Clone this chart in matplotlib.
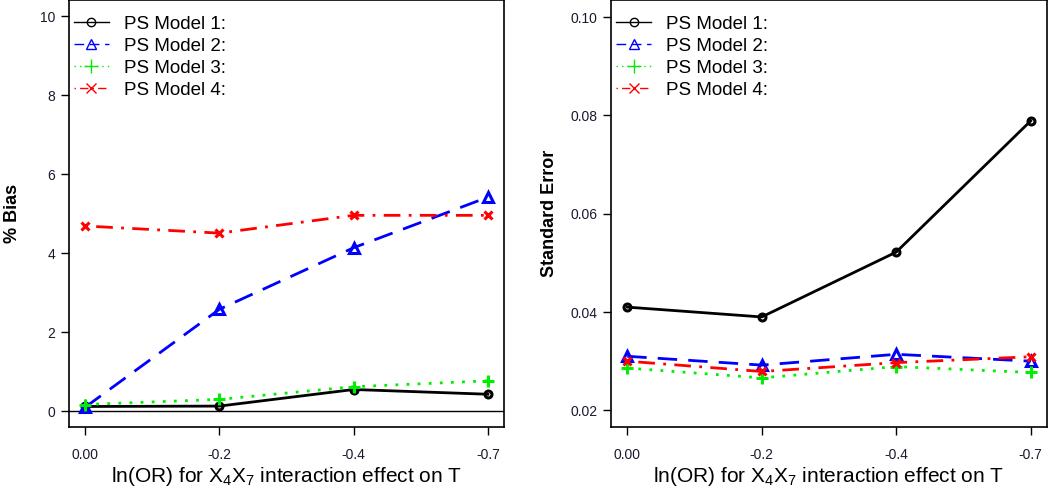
import numpy as np
import matplotlib
matplotlib.use("Agg")
import matplotlib.pyplot as plt
from matplotlib.lines import Line2D

plt.rcParams['font.family'] = ['Liberation Sans', 'DejaVu Sans']

# x categories (ln OR of the X4X7 interaction)
x_labels = ["0.00", "-0.2", "-0.4", "-0.7"]
models = ["PS Model 1:", "PS Model 2:", "PS Model 3:", "PS Model 4:"]

# % Bias
bias_m1 = [0.12, 0.13, 0.55, 0.43]
bias_m2 = [0.10, 2.58, 4.14, 5.42]
bias_m3 = [0.17, 0.30, 0.62, 0.77]
bias_m4 = [4.69, 4.51, 4.96, 4.96]

# Standard Error
se_m1 = [0.0410, 0.0390, 0.0522, 0.0789]
se_m2 = [0.0310, 0.0292, 0.0314, 0.0300]
se_m3 = [0.0286, 0.0266, 0.0289, 0.0277]
se_m4 = [0.0300, 0.0279, 0.0297, 0.0309]

colors = ["black", "blue", "#00ee00", "red"]
styles = ["-", (0, (7, 4)), (0, (1, 3)), (0, (1, 3, 6, 3))]
marks = ["o", "^", "+", "x"]
msizes = [5, 6.5, 9, 6]

fig = plt.figure(figsize=(10.5, 4.91), dpi=100)
axL = fig.add_axes([0.0657, 0.1303, 0.4143, 0.8687])
axR = fig.add_axes([0.582, 0.1303, 0.415, 0.8687])

xpos = np.arange(len(x_labels))


def panel(ax, series, ylim, yticks, yticklabels, ylabel, labx):
    for vals, c, ls, m, ms in zip(series, colors, styles, marks, msizes):
        ax.plot(xpos, vals, color=c, linestyle=ls, linewidth=2,
                marker=m, markersize=ms, markerfacecolor="none",
                markeredgewidth=2.2, zorder=3)
    ax.set_xlim(-0.12, 3.12)
    ax.set_ylim(*ylim)
    ax.set_xticks(xpos)
    ax.set_xticklabels(x_labels)
    ax.set_yticks(yticks)
    ax.set_yticklabels(yticklabels)
    ax.tick_params(axis="both", direction="out", length=6, width=1,
                   labelsize=10, colors="black", labelcolor="#1a1a2e")
    ax.tick_params(axis="x", pad=9)
    ax.tick_params(axis="y", pad=4)
    for s in ax.spines.values():
        s.set_linewidth(1.2)
    ax.set_ylabel(ylabel, fontsize=13, fontweight="bold")
    ax.yaxis.set_label_coords(labx, 0.5)
    ax.set_xlabel(r"ln(OR) for $\mathregular{X_4X_7}$ interaction effect on T",
                  fontsize=15, labelpad=2)
    handles = [Line2D([], [], color=c, linestyle=ls, linewidth=1, marker=m,
                      markersize=ms + 1, markerfacecolor="none",
                      markeredgewidth=1)
               for c, ls, m, ms in zip(colors, styles, marks, msizes)]
    ax.legend(handles, models, loc="upper left", frameon=False, fontsize=13.5,
              handlelength=1.9, handletextpad=0.8, labelspacing=0.26,
              borderpad=0.0, borderaxespad=0.25, bbox_to_anchor=(0.0, 0.975))


panel(axL, [bias_m1, bias_m2, bias_m3, bias_m4], (-0.4, 10.4),
      [0, 2, 4, 6, 8, 10], ["0", "2", "4", "6", "8", "10"], "% Bias", -0.11)
axL.axhline(0, color="black", linewidth=1, zorder=1)

panel(axR, [se_m1, se_m2, se_m3, se_m4], (0.0166, 0.1034),
      [0.02, 0.04, 0.06, 0.08, 0.10], ["0.02", "0.04", "0.06", "0.08", "0.10"],
      "Standard Error", -0.122)

fig.savefig("out.png", dpi=100)
